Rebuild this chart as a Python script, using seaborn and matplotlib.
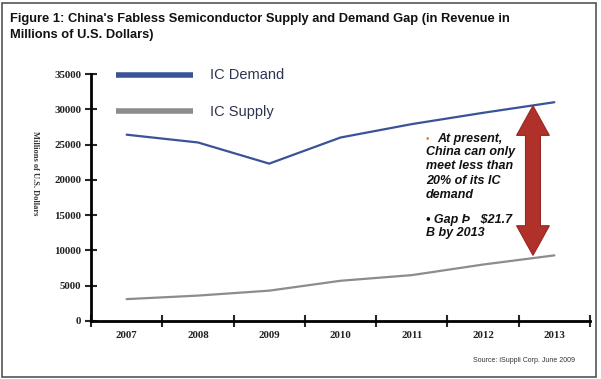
import numpy as np
import pandas as pd
import seaborn as sns
import matplotlib.pyplot as plt
from matplotlib.patches import Polygon, Rectangle
from matplotlib.lines import Line2D

years = ["2007", "2008", "2009", "2010", "2011", "2012", "2013"]
demand = [26400, 25300, 22300, 26000, 27900, 29500, 31000]
supply = [3100, 3600, 4300, 5700, 6500, 8000, 9300]
series_names = ["IC Demand", "IC Supply"]

sns.set_theme(style="white")
plt.rcParams['font.family'] = ['Liberation Sans', 'DejaVu Sans']

fig = plt.figure(figsize=(6.01, 3.79), dpi=100)
ax = fig.add_axes([91/601, 1-321/379, (590-91)/601, (321-74)/379])

pos = np.arange(len(years)) + 0.5
df = pd.DataFrame({"x": np.concatenate([pos, pos]),
                   "value": demand + supply,
                   "series": [series_names[0]]*len(years) + [series_names[1]]*len(years)})
colors = {"IC Demand": "#3a5396", "IC Supply": "#8c8c8c"}
sns.lineplot(data=df, x="x", y="value", hue="series", palette=colors, ax=ax,
             linewidth=1.6, legend=False)

ax.set_xlim(0, 7)
ax.set_ylim(0, 35000)
ax.set_xlabel("")
ax.set_ylabel("")
ax.set_xticks(np.arange(0, 8))
ax.set_xticklabels([""]*8)
ax.set_xticks(pos, minor=True)
ax.set_xticklabels(years, minor=True)
ax.set_yticks(np.arange(0, 35001, 5000))
ax.set_yticklabels([str(v) for v in range(0, 35001, 5000)])
for lab in ax.get_yticklabels() + ax.get_xticklabels(minor=True):
    lab.set_fontfamily('Liberation Serif')
    lab.set_fontweight('bold')
    lab.set_fontsize(7.8)
    lab.set_color('#222222')
ax.tick_params(axis='y', which='major', direction='inout', length=8, width=1.5, pad=3, left=True)
ax.tick_params(axis='x', which='major', direction='inout', length=8, width=1.5, bottom=True)
ax.tick_params(axis='x', which='minor', length=0, pad=7)
for s in ["top", "right"]:
    ax.spines[s].set_visible(False)
for s in ["left", "bottom"]:
    ax.spines[s].set_color("black")
    ax.spines[s].set_linewidth(2)

# legend lines (custom, inside axes)
tr = ax.transAxes
def px2ax(x, y):
    return ((x-91)/(590-91), (321-y)/(321-74))
x0, y0 = px2ax(116, 75); x1, _ = px2ax(193, 75)
ax.add_line(Line2D([x0, x1], [y0, y0], transform=tr, color=colors["IC Demand"], lw=4,
                   solid_capstyle='butt', clip_on=False))
tx, ty = px2ax(210, 75)
ax.text(tx, ty, series_names[0], transform=tr, fontsize=10.5, color="#2e3450", va='center', ha='left')
x0, y0 = px2ax(116, 111); x1, _ = px2ax(193, 111)
ax.add_line(Line2D([x0, x1], [y0, y0], transform=tr, color=colors["IC Supply"], lw=4,
                   solid_capstyle='butt', clip_on=False))
tx, ty = px2ax(210, 112)
ax.text(tx, ty, series_names[1], transform=tr, fontsize=10.5, color="#2e3450", va='center', ha='left')

# double-headed arrow
xc = 6.2
top, bot = 30500, 9300
hw, sw, hl = 0.23, 0.105, 4200
pts = [(xc, top), (xc+hw, top-hl), (xc+sw, top-hl), (xc+sw, bot+hl), (xc+hw, bot+hl),
       (xc, bot), (xc-hw, bot+hl), (xc-sw, bot+hl), (xc-sw, top-hl), (xc-hw, top-hl)]
ax.add_patch(Polygon(pts, closed=True, facecolor="#b0302a", edgecolor="#9a2620", lw=0.8, zorder=3))

# annotation text
tx = px2ax(426, 0)[0]
ax.text(tx, px2ax(0, 139)[1], "•", transform=tr, fontsize=7, color="#e08040", va='center', ha='left')
ax.text(px2ax(437, 0)[0], px2ax(0, 139)[1], "At present,", transform=tr, fontsize=9,
        fontweight='bold', fontstyle='italic', va='center', ha='left', color="#111111")
ax.text(tx, px2ax(0, 146)[1], "China can only\nmeet less than\n20% of its IC\ndemand", transform=tr,
        fontsize=9, fontweight='bold', fontstyle='italic', va='top', ha='left',
        color="#111111", linespacing=1.26)
ax.text(tx, px2ax(0, 214)[1], "• Gap Þ   $21.7\nB by 2013", transform=tr,
        fontsize=9, fontweight='bold', fontstyle='italic', va='top', ha='left',
        color="#111111", linespacing=1.15)

# title, y label, source
fig.text(10/601, 1-13/379, "Figure 1: China's Fabless Semiconductor Supply and Demand Gap (in Revenue in\nMillions of U.S. Dollars)",
         fontsize=9.3, fontweight='bold', va='top', ha='left', color="#111111", linespacing=1.4)
fig.text(35/601, 1-173/379, "Millions of U.S. Dollars", rotation=270, fontsize=6,
         family='Liberation Serif', fontweight='bold', va='center', ha='center', color="#333333")
fig.text(575/601, 1-361/379, "Source: iSuppli Corp. June 2009", fontsize=5, ha='right', va='center', color="#333333")

fig.patches.append(Rectangle((2/601, 2/379), 594/601, 374/379, transform=fig.transFigure,
                             fill=False, edgecolor="#555555", lw=1.2))

fig.savefig("out.png", dpi=100)
